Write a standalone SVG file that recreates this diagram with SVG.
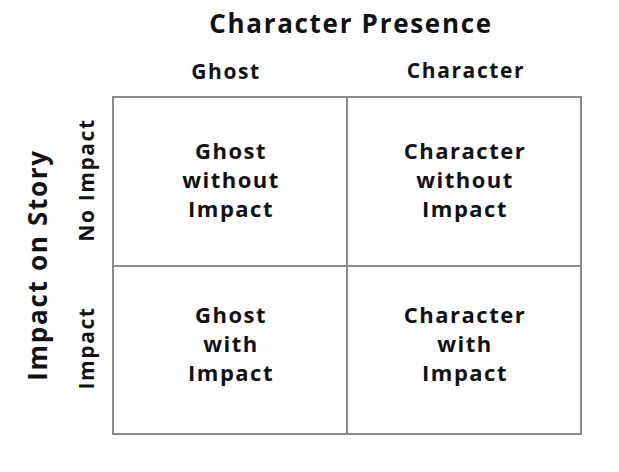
<svg xmlns="http://www.w3.org/2000/svg" width="619" height="472" viewBox="0 0 619 472">
<style>
text{font-family:"Open Sans","Noto Sans","DejaVu Sans",sans-serif;font-weight:700;fill:#111;text-anchor:middle}
.t{font-size:26px;letter-spacing:1.7px}
.h{font-size:21px;letter-spacing:1.6px}
.c{font-size:22px;letter-spacing:1.5px}
.g{fill:none;stroke:#8a8a8a;stroke-width:2}
</style>
<rect width="619" height="472" fill="#fff"/>
<g id="titles">
<text class="t" x="351" y="33">Character Presence</text>
<text class="h" x="226" y="79">Ghost</text>
<text class="h" x="466" y="78">Character</text>
<text class="t" transform="translate(47,265) rotate(-90)">Impact on Story</text>
<text class="h" transform="translate(94,180) rotate(-90)">No Impact</text>
<text class="h" transform="translate(94,348) rotate(-90)">Impact</text>
</g>
<g id="grid">
<rect class="g" x="113" y="97" width="468" height="337"/>
<line class="g" x1="347" y1="97" x2="347" y2="434"/>
<line class="g" x1="113" y1="266" x2="581" y2="266"/>
</g>
<g id="ghost-no-impact">
<text class="c" x="231" y="159">Ghost</text>
<text class="c" x="231" y="188">without</text>
<text class="c" x="231" y="217">Impact</text>
</g>
<g id="character-no-impact">
<text class="c" x="465" y="159">Character</text>
<text class="c" x="465" y="188">without</text>
<text class="c" x="465" y="217">Impact</text>
</g>
<g id="ghost-impact">
<text class="c" x="231" y="323">Ghost</text>
<text class="c" x="231" y="352">with</text>
<text class="c" x="231" y="381">Impact</text>
</g>
<g id="character-impact">
<text class="c" x="465" y="323">Character</text>
<text class="c" x="465" y="352">with</text>
<text class="c" x="465" y="381">Impact</text>
</g>
</svg>
